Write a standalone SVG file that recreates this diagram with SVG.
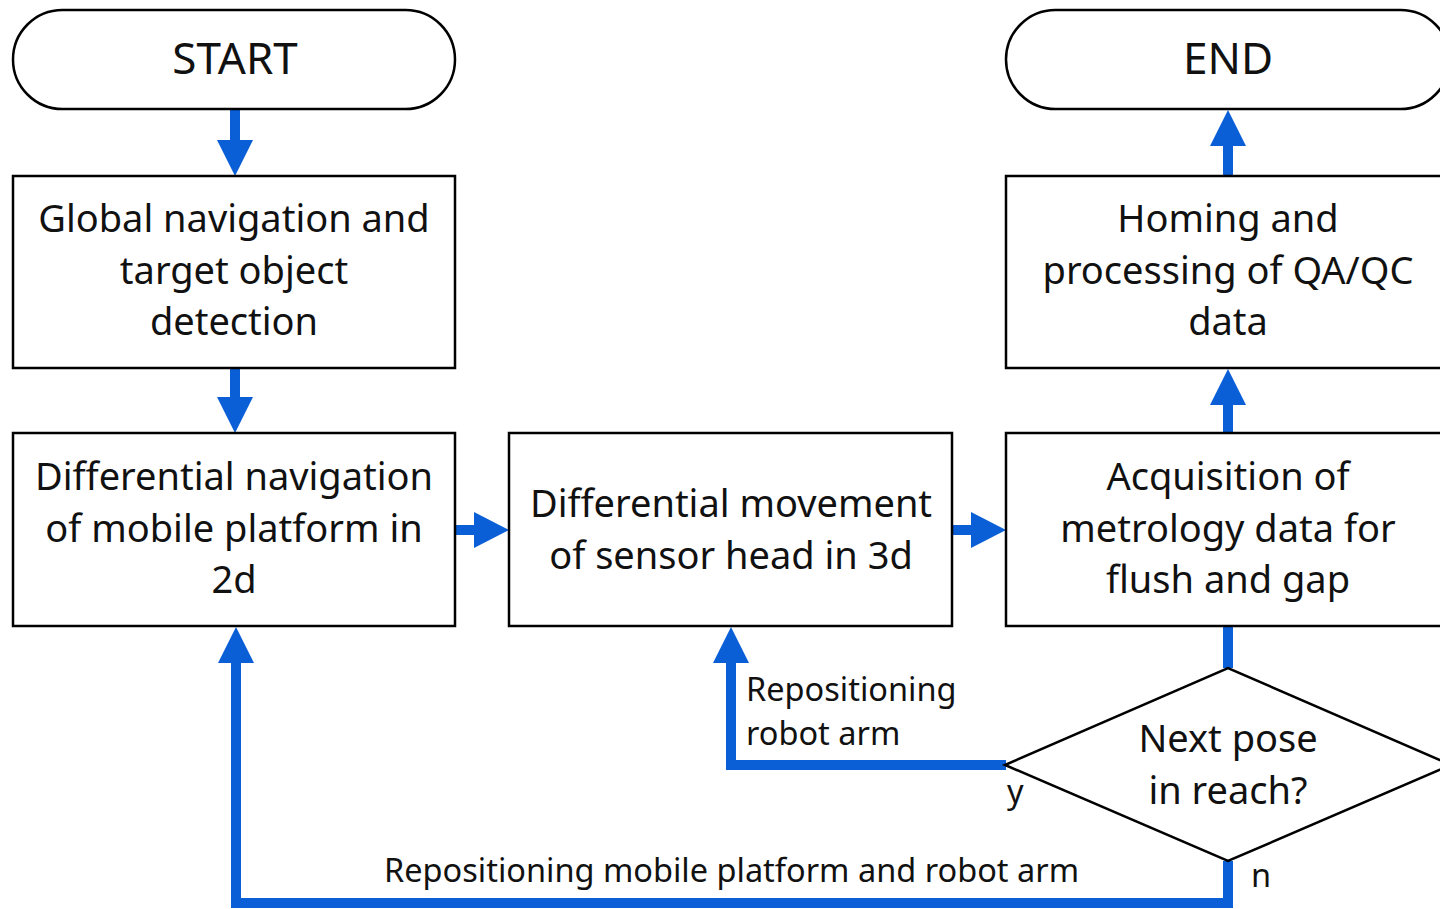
<svg xmlns="http://www.w3.org/2000/svg" width="1440" height="909" viewBox="0 0 1440 909">
  <style>
    .box { fill: #ffffff; stroke: #000000; stroke-width: 2.5; }
    .t { font-family: "Noto Sans", "Open Sans", sans-serif; fill: #111111; text-anchor: middle; }
    .big { font-size: 38px; }
    .term { font-size: 44px; }
    .lbl { font-family: "Noto Sans", "Open Sans", sans-serif; fill: #111111; font-size: 32.5px; }
    .flow { fill: none; stroke: #0a5fd6; stroke-width: 10; }
    .head { fill: #0a5fd6; }
  </style>
  <rect width="1440" height="909" fill="#ffffff"/>

  <g id="connectors">
    <!-- START -> Global navigation -->
    <line class="flow" x1="235" y1="110" x2="235" y2="142"/>
    <polygon class="head" points="217,140 253,140 235,176"/>
    <!-- Global navigation -> Differential navigation -->
    <line class="flow" x1="235" y1="369" x2="235" y2="399"/>
    <polygon class="head" points="217,397 253,397 235,433"/>
    <!-- Differential navigation -> Differential movement -->
    <line class="flow" x1="456" y1="530" x2="476" y2="530"/>
    <polygon class="head" points="474,512 474,548 509,530"/>
    <!-- Differential movement -> Acquisition -->
    <line class="flow" x1="953" y1="530" x2="973" y2="530"/>
    <polygon class="head" points="971,512 971,548 1006,530"/>
    <!-- Acquisition -> Homing -->
    <line class="flow" x1="1228" y1="433" x2="1228" y2="403"/>
    <polygon class="head" points="1210,405 1246,405 1228,369"/>
    <!-- Homing -> END -->
    <line class="flow" x1="1228" y1="176" x2="1228" y2="144"/>
    <polygon class="head" points="1210,146 1246,146 1228,110"/>
    <!-- Acquisition -> decision -->
    <line class="flow" x1="1228" y1="626" x2="1228" y2="668"/>
    <!-- yes branch: back to the sensor head -->
    <polyline class="flow" points="1006,765 731,765 731,661"/>
    <polygon class="head" points="713,663 749,663 731,627"/>
    <!-- no branch: back to the mobile platform -->
    <polyline class="flow" points="1228,861 1228,903 236,903 236,661"/>
    <polygon class="head" points="218,663 254,663 236,627"/>
  </g>

  <g id="start">
    <rect class="box" x="13" y="10" width="442" height="99" rx="49.5" ry="49.5"/>
    <text class="t term" x="235" y="74">START</text>
  </g>

  <g id="end">
    <rect class="box" x="1006" y="10" width="444" height="99" rx="49.5" ry="49.5"/>
    <text class="t term" x="1228" y="74">END</text>
  </g>

  <g id="global-navigation">
    <rect class="box" x="13" y="176" width="442" height="192"/>
    <text class="t big" x="234" y="232">Global navigation and</text>
    <text class="t big" x="234" y="284">target object</text>
    <text class="t big" x="234" y="335">detection</text>
  </g>

  <g id="homing">
    <rect class="box" x="1006" y="176" width="444" height="192"/>
    <text class="t big" x="1228" y="232">Homing and</text>
    <text class="t big" x="1228" y="284">processing of QA/QC</text>
    <text class="t big" x="1228" y="335">data</text>
  </g>

  <g id="differential-navigation">
    <rect class="box" x="13" y="433" width="442" height="193"/>
    <text class="t big" x="234" y="490">Differential navigation</text>
    <text class="t big" x="234" y="542">of mobile platform in</text>
    <text class="t big" x="234" y="593">2d</text>
  </g>

  <g id="differential-movement">
    <rect class="box" x="509" y="433" width="443" height="193"/>
    <text class="t big" x="731" y="517">Differential movement</text>
    <text class="t big" x="731" y="569">of sensor head in 3d</text>
  </g>

  <g id="acquisition">
    <rect class="box" x="1006" y="433" width="444" height="193"/>
    <text class="t big" x="1228" y="490">Acquisition of</text>
    <text class="t big" x="1228" y="542">metrology data for</text>
    <text class="t big" x="1228" y="593">flush and gap</text>
  </g>

  <g id="decision">
    <polygon class="box" points="1005,765 1228,668 1451,765 1228,861"/>
    <text class="t big" x="1228" y="752">Next pose</text>
    <text class="t big" x="1228" y="804">in reach?</text>
  </g>

  <g id="labels">
    <text class="lbl" x="746" y="701">Repositioning</text>
    <text class="lbl" x="746" y="745">robot arm</text>
    <text class="lbl" x="1007" y="803" font-size="37">y</text>
    <text class="lbl" x="1251" y="887" font-size="37">n</text>
    <text class="lbl" x="384" y="882" font-size="33.5">Repositioning mobile platform and robot arm</text>
  </g>
</svg>
